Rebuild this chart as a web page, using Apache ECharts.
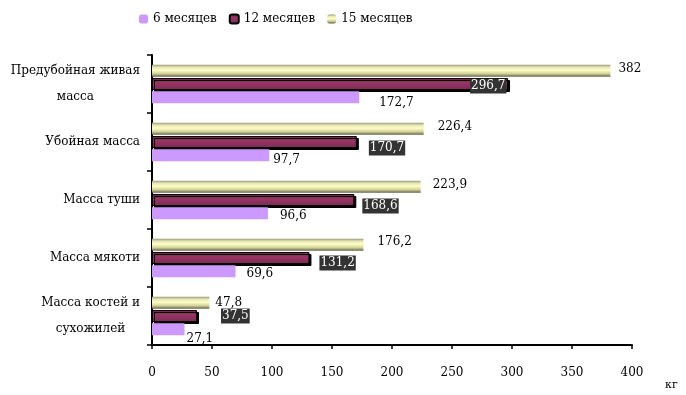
<!DOCTYPE html>
<html>
<head>
<meta charset="utf-8">
<script src="https://cdn.jsdelivr.net/npm/echarts@6/dist/echarts.min.js"></script>
<style>
  html, body { margin: 0; padding: 0; background: #fff; }
  #chart { width: 686px; height: 395px; }
</style>
</head>
<body>
<div id="chart"></div>
<script>
// Показатели убоя по возрастам, кг
const categories = [
  'Предубойная живая\nмасса',
  'Убойная масса',
  'Масса туши',
  'Масса мякоти',
  'Масса костей и\nсухожилей'
];
const seriesNames = ['6 месяцев', '12 месяцев', '15 месяцев'];
const months6 = [172.7, 97.7, 96.6, 69.6, 27.1];
const months12 = [296.7, 170.7, 168.6, 131.2, 37.5];
const months15 = [382, 226.4, 223.9, 176.2, 47.8];
const xTicks = [0, 50, 100, 150, 200, 250, 300, 350, 400];

// Сдвиги подписей значений относительно конца столбца [dx, dy]
const shift6 = [[18, 6], [2, 5], [10, 3], [9, 3], [0, 10]];
const shift12 = [[-40, 2], [10, 6], [6, 6], [8, 5], [22, 0]];
const shift15 = [[6, -2], [12, -2], [10, -2], [12, -3], [4, 0]];

const fmt = v => String(v).replace('.', ',');
const serif = '"DejaVu Serif", "Liberation Serif", serif';
const fs = 12;

function withLabels(values, shifts) {
  return values.map((v, i) => ({ value: v, label: { offset: shifts[i] } }));
}

const chart = echarts.init(document.getElementById('chart'), null, { renderer: 'canvas' });

const barCommon = { type: 'bar', barWidth: 12, barGap: '10%', barCategoryGap: '30%' };

const beige = new echarts.graphic.LinearGradient(0, 0, 0, 1, [
  { offset: 0, color: '#9a9a78' },
  { offset: 0.2, color: '#e6e6b8' },
  { offset: 0.45, color: '#ffffc4' },
  { offset: 0.75, color: '#cfcf98' },
  { offset: 1, color: '#5f5f44' }
]);
const maroon = new echarts.graphic.LinearGradient(0, 0, 0, 1, [
  { offset: 0, color: '#6e2448' },
  { offset: 0.4, color: '#9a3566' },
  { offset: 1, color: '#7a2a52' }
]);

chart.setOption({
  animation: false,
  textStyle: { fontFamily: serif },
  legend: {
    top: 8,
    left: 134,
    itemWidth: 9,
    itemHeight: 9,
    itemGap: 12,
    textStyle: { fontFamily: serif, fontSize: fs, color: '#000' },
    data: seriesNames
  },
  grid: { left: 152, right: 54, top: 55, bottom: 50, containLabel: false },
  xAxis: {
    type: 'value',
    min: xTicks[0],
    max: xTicks[xTicks.length - 1],
    interval: 50,
    name: 'кг',
    nameLocation: 'end',
    nameGap: 33,
    nameTextStyle: { fontFamily: serif, fontSize: 11, color: '#000', verticalAlign: 'top', padding: [35, 0, 0, 0] },
    axisLine: { show: true, lineStyle: { color: '#000', width: 2 } },
    axisTick: { show: true, length: 4, lineStyle: { color: '#000', width: 1.5 } },
    axisLabel: { margin: 22, fontFamily: serif, fontSize: fs, color: '#000' },
    splitLine: { show: false }
  },
  yAxis: {
    type: 'category',
    inverse: true,
    data: categories,
    axisLine: { show: true, lineStyle: { color: '#000', width: 2 } },
    axisTick: { show: true, length: 5, lineStyle: { color: '#000', width: 1.5 } },
    axisLabel: {
      margin: 12,
      align: 'right',
      color: '#000',
      formatter: v => v.split('\n').map(s => '{c|' + s + '}').join('\n'),
      rich: {
        c: { align: 'center', fontFamily: serif, fontSize: fs, lineHeight: 26, color: '#000' }
      }
    }
  },
  series: [
    Object.assign({}, barCommon, {
      name: seriesNames[2],
      itemStyle: { color: beige },
      label: {
        show: true, position: 'right', distance: 2,
        formatter: p => fmt(p.value),
        fontFamily: serif, fontSize: fs, color: '#000'
      },
      data: withLabels(months15, shift15)
    }),
    Object.assign({}, barCommon, {
      name: seriesNames[1],
      itemStyle: {
        color: maroon,
        borderColor: '#000',
        borderWidth: 1,
        shadowColor: '#000',
        shadowOffsetX: 2,
        shadowOffsetY: 2,
        shadowBlur: 0
      },
      label: {
        show: true, position: 'right', distance: 2,
        formatter: p => fmt(p.value),
        fontFamily: serif, fontSize: fs, color: '#fff',
        backgroundColor: '#333333',
        padding: [2, 1, 1, 1]
      },
      data: withLabels(months12, shift12)
    }),
    Object.assign({}, barCommon, {
      name: seriesNames[0],
      itemStyle: { color: '#cc99ff' },
      label: {
        show: true, position: 'right', distance: 2,
        formatter: p => fmt(p.value),
        fontFamily: serif, fontSize: fs, color: '#000'
      },
      data: withLabels(months6, shift6)
    })
  ]
});
</script>
</body>
</html>
